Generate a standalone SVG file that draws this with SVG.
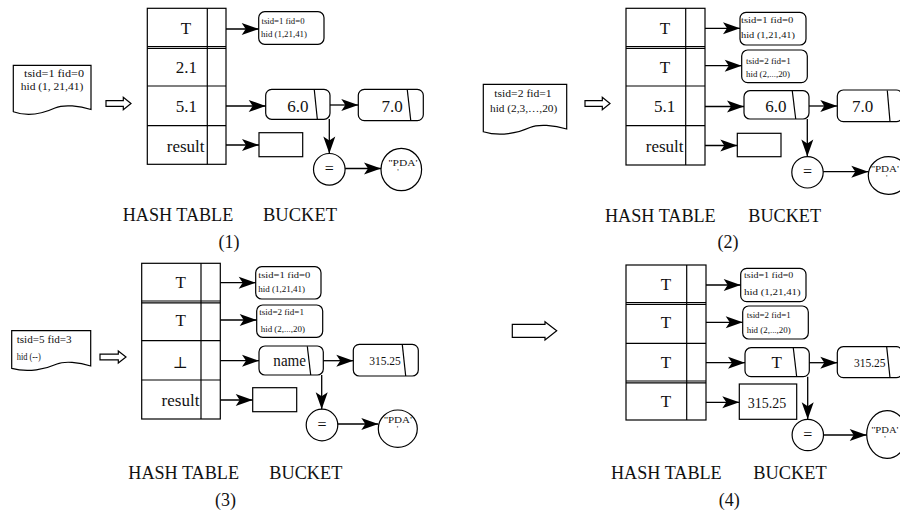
<svg xmlns="http://www.w3.org/2000/svg" width="900" height="511" viewBox="0 0 900 511">
<defs>
<marker id="ah" viewBox="0 0 18 13" markerWidth="18" markerHeight="13" refX="17" refY="6.5" orient="auto" markerUnits="userSpaceOnUse" overflow="visible">
<path d="M0,0.5 L17,6.5 L0,12.5 L4,6.5 Z" fill="#000"/>
</marker>
<style>
.ln{fill:none;stroke:#000;stroke-width:1.2}
.nd{fill:#fff;stroke:#000;stroke-width:1.2}
.c{fill:none;stroke:#000;stroke-width:1.3;marker-end:url(#ah)}
text{font-family:"Liberation Serif","Times New Roman",serif;fill:#111}
.lb{font-size:17px;text-anchor:middle}
.sm{font-size:8.5px}
.dc{font-size:10.5px}
.cap{font-size:18px}
.pd{font-size:8px;text-anchor:middle}
.eq{font-size:16px;text-anchor:middle}
.num{font-size:11.5px;text-anchor:middle}
.perp{font-family:"DejaVu Serif",serif;font-size:16px;text-anchor:middle}
</style>
</defs>
<rect width="900" height="511" fill="#fff"/>

<!-- ============ PANEL 1 ============ -->
<g id="p1-doc">
<path class="nd" d="M13.3,65.3 H91 V109.5 C80,106 64,104 55,108 C44,113 28,117 13.3,111.7 Z"/>
<text class="dc" x="24" y="77" textLength="60" lengthAdjust="spacingAndGlyphs">tsid=1 fid=0</text>
<text class="dc" x="20.7" y="90" textLength="62.6" lengthAdjust="spacingAndGlyphs">hid (1, 21,41)</text>
</g>
<g id="p1-arrow"><polygon class="nd" points="106,100.7 123.3,100.7 123.3,97.3 131,103.5 123.3,109.7 123.3,106.3 106,106.3"/></g>
<g id="p1-table">
<rect class="ln" x="147.3" y="8.3" width="78.7" height="156"/>
<line class="ln" x1="207.3" y1="8.3" x2="207.3" y2="164.3"/>
<line class="ln" x1="147.3" y1="46.5" x2="226" y2="46.5"/>
<line class="ln" x1="147.3" y1="48.3" x2="226" y2="48.3"/>
<line class="ln" x1="147.3" y1="86" x2="226" y2="86"/>
<line class="ln" x1="147.3" y1="125.7" x2="226" y2="125.7"/>
<text class="lb" x="186" y="34.3">T</text>
<text class="lb" x="186.3" y="72.7">2.1</text>
<text class="lb" x="186.3" y="111.7">5.1</text>
<text class="lb" x="185.7" y="151.7">result</text>
</g>
<g id="p1-b1">
<rect class="nd" x="258.7" y="11.7" width="65.3" height="32.6" rx="6"/>
<text class="sm" x="261.5" y="23.5" textLength="43" lengthAdjust="spacingAndGlyphs">tsid=1 fid=0</text>
<text class="sm" x="261" y="37" textLength="46" lengthAdjust="spacingAndGlyphs">hid (1,21,41)</text>
</g>
<g id="p1-n60">
<rect class="nd" x="265.7" y="89.3" width="64.3" height="30" rx="6"/>
<line class="ln" x1="314.3" y1="90" x2="317.3" y2="119"/>
<text class="lb" x="297.8" y="111.7">6.0</text>
</g>
<g id="p1-n70">
<rect class="nd" x="358.3" y="89.3" width="65" height="31.4" rx="6"/>
<line class="ln" x1="407.3" y1="90" x2="410.7" y2="120"/>
<text class="lb" x="392.2" y="111.7">7.0</text>
</g>
<g id="p1-res"><rect class="nd" x="259" y="132.7" width="43.7" height="24"/></g>
<g id="p1-eq"><circle class="nd" cx="329.3" cy="169.3" r="15.8"/><text class="eq" x="329.3" y="174">=</text></g>
<g id="p1-pda">
<ellipse class="nd" cx="401.3" cy="169.5" rx="20.3" ry="21.2"/>
<text class="pd" x="403" y="166" textLength="29" lengthAdjust="spacingAndGlyphs">''PDA'</text>
<text class="pd" x="398" y="175">'</text>
</g>
<g id="p1-cap">
<text class="cap" x="122.7" y="221" textLength="110.6" lengthAdjust="spacingAndGlyphs">HASH TABLE</text>
<text class="cap" x="263" y="221" textLength="74" lengthAdjust="spacingAndGlyphs">BUCKET</text>
<text class="cap" x="229" y="248" text-anchor="middle">(1)</text>
</g>

<!-- ============ PANEL 2 ============ -->
<g id="p2-doc">
<path class="nd" d="M483.3,84.3 H566.7 V129 C554,125 538,124 530,127.5 C518,133 500,137 483.3,131.7 Z"/>
<text class="dc" x="494.3" y="96.7" textLength="57.4" lengthAdjust="spacingAndGlyphs">tsid=2 fid=1</text>
<text class="dc" x="490" y="111.5" textLength="67.3" lengthAdjust="spacingAndGlyphs">hid (2,3,…,20)</text>
</g>
<g id="p2-arrow"><polygon class="nd" points="585,100.7 602.3,100.7 602.3,97.3 610,103.5 602.3,109.7 602.3,106.3 585,106.3"/></g>
<g id="p2-table">
<rect class="ln" x="626" y="8.3" width="79" height="156.7"/>
<line class="ln" x1="685.7" y1="8.3" x2="685.7" y2="165"/>
<line class="ln" x1="626" y1="46.5" x2="705" y2="46.5"/>
<line class="ln" x1="626" y1="48.3" x2="705" y2="48.3"/>
<line class="ln" x1="626" y1="86" x2="705" y2="86"/>
<line class="ln" x1="626" y1="125.7" x2="705" y2="125.7"/>
<text class="lb" x="665" y="34.3">T</text>
<text class="lb" x="665" y="72.7">T</text>
<text class="lb" x="664.5" y="111.7">5.1</text>
<text class="lb" x="664.7" y="151.7">result</text>
</g>
<g id="p2-b1">
<rect class="nd" x="740" y="12.3" width="66" height="32.7" rx="6"/>
<text class="sm" x="741" y="23" textLength="52.3" lengthAdjust="spacingAndGlyphs">tsid=1 fid=0</text>
<text class="sm" x="741" y="37.5" textLength="54" lengthAdjust="spacingAndGlyphs">hid (1,21,41)</text>
</g>
<g id="p2-b2">
<rect class="nd" x="741.7" y="50" width="65.6" height="32.7" rx="6"/>
<text class="sm" x="746" y="64" textLength="44.7" lengthAdjust="spacingAndGlyphs">tsid=2 fid=1</text>
<text class="sm" x="746" y="76.5" textLength="44" lengthAdjust="spacingAndGlyphs">hid (2,...,20)</text>
</g>
<g id="p2-n60">
<rect class="nd" x="744" y="90.7" width="65" height="28.3" rx="6"/>
<line class="ln" x1="792.3" y1="91" x2="795.7" y2="119"/>
<text class="lb" x="775.8" y="111.7">6.0</text>
</g>
<g id="p2-n70">
<rect class="nd" x="837.3" y="90" width="65" height="31.7" rx="6"/>
<line class="ln" x1="887.3" y1="90.5" x2="890" y2="121.5"/>
<text class="lb" x="862.5" y="111.7">7.0</text>
</g>
<g id="p2-res"><rect class="nd" x="737.3" y="133.3" width="43.7" height="23.4"/></g>
<g id="p2-eq"><circle class="nd" cx="807.5" cy="172.3" r="15.7"/><text class="eq" x="807.5" y="177">=</text></g>
<g id="p2-pda">
<ellipse class="nd" cx="888.5" cy="175.5" rx="20.2" ry="18.8"/>
<text class="pd" x="885" y="172" textLength="28" lengthAdjust="spacingAndGlyphs">''PDA'</text>
<text class="pd" x="886.7" y="181">'</text>
</g>
<g id="p2-cap">
<text class="cap" x="605" y="221.7" textLength="110.7" lengthAdjust="spacingAndGlyphs">HASH TABLE</text>
<text class="cap" x="748.3" y="221.7" textLength="72.7" lengthAdjust="spacingAndGlyphs">BUCKET</text>
<text class="cap" x="728" y="248" text-anchor="middle">(2)</text>
</g>

<!-- ============ PANEL 3 ============ -->
<g id="p3-doc">
<path class="nd" d="M11.7,330.7 H90.7 V366 C79,362 64,361 57,364 C46,369 28,373 11.7,368.3 Z"/>
<text class="dc" x="16.7" y="343.3" textLength="55" lengthAdjust="spacingAndGlyphs">tsid=5 fid=3</text>
<text class="dc" x="16.7" y="360" textLength="24" lengthAdjust="spacingAndGlyphs">hid (--)</text>
</g>
<g id="p3-arrow"><polygon class="nd" points="100,354.2 118.3,354.2 118.3,351 126,357 118.3,363 118.3,359.8 100,359.8"/></g>
<g id="p3-table">
<rect class="ln" x="141.7" y="263.3" width="78.6" height="155.7"/>
<line class="ln" x1="201" y1="263.3" x2="201" y2="419"/>
<line class="ln" x1="141.7" y1="301" x2="220.3" y2="301"/>
<line class="ln" x1="141.7" y1="302.8" x2="220.3" y2="302.8"/>
<line class="ln" x1="141.7" y1="340.7" x2="220.3" y2="340.7"/>
<line class="ln" x1="141.7" y1="380" x2="220.3" y2="380"/>
<text class="lb" x="180.7" y="288.3">T</text>
<text class="lb" x="180.7" y="326">T</text>
<text class="perp" x="180" y="368">⊥</text>
<text class="lb" x="180.5" y="406">result</text>
</g>
<g id="p3-b1">
<rect class="nd" x="255.7" y="266.7" width="65.3" height="32.3" rx="6"/>
<text class="sm" x="258.3" y="277.5" textLength="52" lengthAdjust="spacingAndGlyphs">tsid=1 fid=0</text>
<text class="sm" x="258.3" y="291.5" textLength="46.7" lengthAdjust="spacingAndGlyphs">hid (1,21,41)</text>
</g>
<g id="p3-b2">
<rect class="nd" x="256.7" y="305" width="66" height="32.3" rx="6"/>
<text class="sm" x="259.3" y="315" textLength="44.7" lengthAdjust="spacingAndGlyphs">tsid=2 fid=1</text>
<text class="sm" x="260.7" y="332" textLength="44.3" lengthAdjust="spacingAndGlyphs">hid (2,...,20)</text>
</g>
<g id="p3-nname">
<rect class="nd" x="259" y="346" width="64.3" height="29" rx="6"/>
<line class="ln" x1="307.3" y1="346.3" x2="310.7" y2="375"/>
<text class="lb" x="289.7" y="366" textLength="32.7" lengthAdjust="spacingAndGlyphs">name</text>
</g>
<g id="p3-n315">
<rect class="nd" x="353.3" y="344.3" width="65" height="31.7" rx="6"/>
<line class="ln" x1="402.3" y1="344.6" x2="405.7" y2="376"/>
<text class="num" x="385" y="365">315.25</text>
</g>
<g id="p3-res"><rect class="nd" x="252.7" y="387.7" width="44" height="24"/></g>
<g id="p3-eq"><circle class="nd" cx="322" cy="425" r="15.8"/><text class="eq" x="322" y="429.5">=</text></g>
<g id="p3-pda">
<ellipse class="nd" cx="397.8" cy="428.7" rx="19.5" ry="18.7"/>
<text class="pd" x="398" y="423" textLength="28" lengthAdjust="spacingAndGlyphs">''PDA'</text>
<text class="pd" x="397.5" y="431.5">'</text>
</g>
<g id="p3-cap">
<text class="cap" x="128.3" y="479.3" textLength="110.7" lengthAdjust="spacingAndGlyphs">HASH TABLE</text>
<text class="cap" x="269.3" y="479.3" textLength="73" lengthAdjust="spacingAndGlyphs">BUCKET</text>
<text class="cap" x="225.5" y="505.7" text-anchor="middle">(3)</text>
</g>

<!-- ============ PANEL 4 ============ -->
<g id="p4-arrow"><polygon class="nd" points="512.3,324.3 545,324.3 545,321.7 556.7,330.8 545,340 545,337.3 512.3,337.3"/></g>
<g id="p4-table">
<rect class="ln" x="626" y="265" width="80" height="155"/>
<line class="ln" x1="686.7" y1="265" x2="686.7" y2="420"/>
<line class="ln" x1="626" y1="302.5" x2="706" y2="302.5"/>
<line class="ln" x1="626" y1="304.3" x2="706" y2="304.3"/>
<line class="ln" x1="626" y1="343.3" x2="706" y2="343.3"/>
<line class="ln" x1="626" y1="381" x2="706" y2="381"/>
<line class="ln" x1="626" y1="382.8" x2="706" y2="382.8"/>
<text class="lb" x="666" y="290">T</text>
<text class="lb" x="666" y="328.3">T</text>
<text class="lb" x="666" y="368.3">T</text>
<text class="lb" x="666" y="406.7">T</text>
</g>
<g id="p4-b1">
<rect class="nd" x="740.7" y="268.3" width="65.3" height="33.4" rx="6"/>
<text class="sm" x="744" y="277.5" textLength="49.3" lengthAdjust="spacingAndGlyphs">tsid=1 fid=0</text>
<text class="sm" x="744" y="295" textLength="56.7" lengthAdjust="spacingAndGlyphs">hid (1,21,41)</text>
</g>
<g id="p4-b2">
<rect class="nd" x="742.7" y="306" width="65.6" height="33" rx="6"/>
<text class="sm" x="746.7" y="317.5" textLength="44" lengthAdjust="spacingAndGlyphs">tsid=2 fid=1</text>
<text class="sm" x="746.7" y="332.5" textLength="44" lengthAdjust="spacingAndGlyphs">hid (2,...,20)</text>
</g>
<g id="p4-nT">
<rect class="nd" x="745" y="347.7" width="64.3" height="29" rx="6"/>
<line class="ln" x1="793.3" y1="348" x2="796.7" y2="376.7"/>
<text class="lb" x="776.7" y="368.3">T</text>
</g>
<g id="p4-n315">
<rect class="nd" x="837.3" y="346.7" width="65" height="31" rx="6"/>
<line class="ln" x1="886.7" y1="347" x2="890" y2="377.7"/>
<text class="num" x="869.7" y="366.7">315.25</text>
</g>
<g id="p4-res">
<rect class="nd" x="739.3" y="384" width="57.4" height="35.3"/>
<text class="num" x="767" y="408" style="font-size:14px">315.25</text>
</g>
<g id="p4-eq"><circle class="nd" cx="807.8" cy="435" r="15.7"/><text class="eq" x="807.8" y="439.5">=</text></g>
<g id="p4-pda">
<ellipse class="nd" cx="887" cy="434.5" rx="20.3" ry="23.8"/>
<text class="pd" x="885" y="433" textLength="27" lengthAdjust="spacingAndGlyphs">''PDA'</text>
<text class="pd" x="885" y="442">'</text>
</g>
<g id="p4-cap">
<text class="cap" x="611" y="479.3" textLength="110.7" lengthAdjust="spacingAndGlyphs">HASH TABLE</text>
<text class="cap" x="753.3" y="479.3" textLength="73.4" lengthAdjust="spacingAndGlyphs">BUCKET</text>
<text class="cap" x="729.3" y="505.7" text-anchor="middle">(4)</text>
</g>

<!-- ============ CONNECTORS ============ -->
<g id="connectors">
<line class="c" x1="226" y1="29" x2="258.7" y2="29"/>
<line class="c" x1="226" y1="106" x2="265.7" y2="106"/>
<line class="c" x1="330" y1="105" x2="358.3" y2="105"/>
<line class="c" x1="226" y1="145" x2="259" y2="145"/>
<line class="c" x1="329.3" y1="119" x2="329.3" y2="153.5"/>
<line class="c" x1="345.1" y1="168.5" x2="381" y2="168.5"/>

<line class="c" x1="705" y1="28.3" x2="740" y2="28.3"/>
<line class="c" x1="705" y1="65.7" x2="741.7" y2="65.7"/>
<line class="c" x1="705" y1="106.5" x2="744" y2="106.5"/>
<line class="c" x1="809" y1="106" x2="837.3" y2="106"/>
<line class="c" x1="705" y1="145.5" x2="737.3" y2="145.5"/>
<line class="c" x1="807.3" y1="119" x2="807.3" y2="156.6"/>
<line class="c" x1="823.2" y1="171.7" x2="868.3" y2="171.7"/>

<line class="c" x1="220.3" y1="282.7" x2="255.7" y2="282.7"/>
<line class="c" x1="220.3" y1="320" x2="256.7" y2="320"/>
<line class="c" x1="220.3" y1="360.7" x2="259" y2="360.7"/>
<line class="c" x1="323.3" y1="360.7" x2="353.3" y2="360.7"/>
<line class="c" x1="220.3" y1="400" x2="252.7" y2="400"/>
<line class="c" x1="321.7" y1="375" x2="321.7" y2="409.2"/>
<line class="c" x1="337.8" y1="424" x2="378.3" y2="424"/>

<line class="c" x1="706" y1="285" x2="740.7" y2="285"/>
<line class="c" x1="706" y1="322.3" x2="742.7" y2="322.3"/>
<line class="c" x1="706" y1="362.7" x2="745" y2="362.7"/>
<line class="c" x1="809.3" y1="362.7" x2="837.3" y2="362.7"/>
<line class="c" x1="706" y1="402.3" x2="739.3" y2="402.3"/>
<line class="c" x1="807.7" y1="376.7" x2="807.7" y2="419.3"/>
<line class="c" x1="823.5" y1="435" x2="866.7" y2="435"/>
</g>
</svg>
